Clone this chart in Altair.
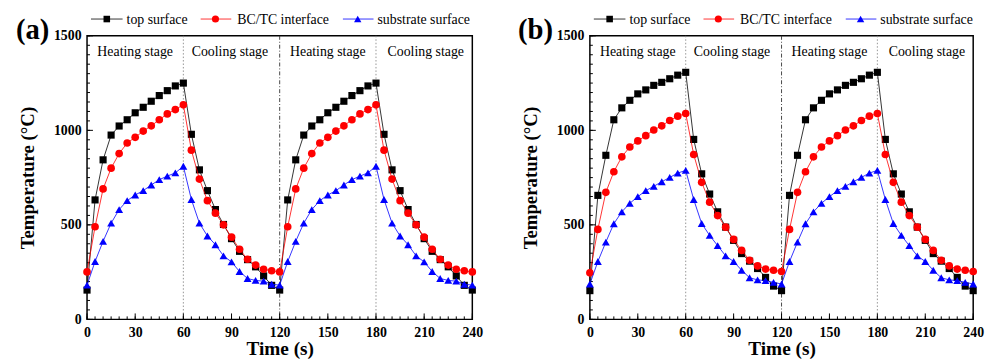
import altair as alt
import pandas as pd

# ---------------- data ----------------
time_s = list(range(0, 245, 5))
series_names = ["top surface", "BC/TC interface", "substrate surface"]

a_top = [155, 632, 844, 975, 1023, 1056, 1093, 1122, 1154, 1184, 1210, 1235, 1250,
         979, 791, 681, 581, 502, 427, 360, 316, 278, 230, 180,
         155, 632, 844, 975, 1023, 1056, 1093, 1122, 1154, 1184, 1210, 1235, 1250,
         979, 791, 681, 581, 502, 427, 360, 316, 278, 230, 180, 155]
a_interface = [251, 490, 690, 800, 877, 933, 963, 996, 1024, 1056, 1087, 1110, 1135,
               895, 742, 628, 562, 500, 435, 371, 318, 287, 265, 257,
               251, 490, 690, 800, 877, 933, 963, 996, 1024, 1056, 1087, 1110, 1135,
               895, 742, 628, 562, 500, 435, 371, 318, 287, 265, 257, 251]
a_substrate = [181, 306, 413, 509, 581, 628, 658, 681, 711, 739, 758, 775, 810,
               634, 509, 441, 395, 336, 304, 253, 216, 206, 202, 186,
               181, 306, 413, 509, 581, 628, 658, 681, 711, 739, 758, 775, 810,
               634, 509, 441, 395, 336, 304, 253, 216, 206, 202, 186, 181]

b_top = [152, 656, 868, 1056, 1119, 1159, 1193, 1214, 1238, 1254, 1273, 1292, 1307,
         952, 770, 663, 569, 488, 418, 348, 308, 269, 222, 176,
         152, 656, 868, 1056, 1119, 1159, 1193, 1214, 1238, 1254, 1273, 1292, 1307,
         952, 770, 663, 569, 488, 418, 348, 308, 269, 222, 176, 152]
b_interface = [246, 476, 672, 781, 860, 912, 944, 972, 1002, 1024, 1052, 1075, 1089,
               872, 725, 620, 549, 488, 423, 365, 313, 283, 266, 260,
               253, 476, 672, 781, 860, 912, 944, 972, 1002, 1024, 1052, 1075, 1089,
               872, 725, 620, 549, 488, 423, 365, 313, 283, 266, 260, 253]
b_substrate = [187, 306, 409, 506, 569, 614, 649, 681, 704, 728, 751, 774, 788,
               634, 507, 444, 390, 336, 306, 260, 220, 209, 205, 196,
               187, 306, 409, 506, 569, 614, 649, 681, 704, 728, 751, 774, 788,
               634, 507, 444, 390, 336, 306, 260, 220, 209, 205, 196, 187]

x_tick_labels = [0, 30, 60, 90, 120, 150, 180, 210, 240]
y_tick_labels = [0, 500, 1000, 1500]
x_minor_ticks = list(range(0, 245, 5))
y_minor_ticks = list(range(0, 1501, 50))
boundaries_dotted = [60, 180]
boundaries_dashdot = [120]
stage_labels = ["Heating stage", "Cooling stage", "Heating stage", "Cooling stage"]
stage_label_t = [30, 89, 150, 211]
stage_label_T = [1392, 1392, 1392, 1392]

# ---------------- style ----------------
FONT = "Times New Roman, Liberation Serif, Times, serif"
COLORS = ["#000000", "#ff0000", "#0000ff"]
SHAPES = ["square", "circle", "triangle-up"]
SIZES = [52, 60, 64]
LEG_LINE_X0 = [4, 115, 259]
LEG_LINE_X1 = [36, 146, 290]
LEG_MARK_X = [20, 130, 274]
LEG_TEXT_X = [40, 152, 294]
LEG_Y = -17
H = 287


def make_panel(letter, values, width, height=H):
    x_enc = alt.X(
        "t:Q",
        scale=alt.Scale(domain=[0, 240], nice=False, zero=False),
        axis=alt.Axis(values=x_tick_labels, ticks=False, tickSize=0, domain=False,
                      grid=False, labelPadding=6, labelFlush=False, labelOverlap=False,
                      format="d", title="Time (s)", titleX=width / 2, titleY=36,
                      titleBaseline="alphabetic", titleAlign="center", titleFontSize=19.5),
    )
    y_enc = alt.Y(
        "T:Q",
        scale=alt.Scale(domain=[0, 1500], nice=False),
        axis=alt.Axis(values=y_tick_labels, ticks=False, tickSize=0, domain=False,
                      grid=False, labelPadding=6, labelOverlap=False, format="d",
                      title="Temperature (°C)", titleX=-54, titleY=height / 2,
                      titleAngle=270, titleBaseline="alphabetic", titleAlign="center",
                      titleFontSize=19),
    )

    layers = []
    # stage boundaries
    layers.append(alt.Chart(pd.DataFrame({"t": boundaries_dotted})).mark_rule(
        color="#888888", strokeWidth=0.9, strokeDash=[1.5, 2]).encode(x=x_enc))
    layers.append(alt.Chart(pd.DataFrame({"t": boundaries_dashdot})).mark_rule(
        color="#333333", strokeWidth=0.9, strokeDash=[4, 2, 1, 2]).encode(x=x_enc))

    # inward ticks
    layers.append(alt.Chart(pd.DataFrame({"t": x_minor_ticks})).mark_rule(
        color="black", strokeWidth=1).encode(x=x_enc, y=alt.value(height), y2=alt.value(height - 3)))
    layers.append(alt.Chart(pd.DataFrame({"t": x_tick_labels})).mark_rule(
        color="black", strokeWidth=1).encode(x=x_enc, y=alt.value(height), y2=alt.value(height - 6)))
    layers.append(alt.Chart(pd.DataFrame({"T": y_minor_ticks})).mark_rule(
        color="black", strokeWidth=1).encode(y=y_enc, x=alt.value(0), x2=alt.value(3)))
    layers.append(alt.Chart(pd.DataFrame({"T": y_tick_labels})).mark_rule(
        color="black", strokeWidth=1).encode(y=y_enc, x=alt.value(0), x2=alt.value(6)))

    # series
    for i, name in enumerate(series_names):
        df = pd.DataFrame({"t": time_s, "T": values[i], "series": name})
        layers.append(alt.Chart(df).mark_line(color=COLORS[i], strokeWidth=0.8).encode(
            x=x_enc, y=y_enc))
        layers.append(alt.Chart(df).mark_point(
            filled=True, shape=SHAPES[i], size=SIZES[i], color=COLORS[i], opacity=1).encode(
            x=x_enc, y=y_enc))

    # stage labels
    layers.append(alt.Chart(pd.DataFrame({"t": stage_label_t, "T": stage_label_T,
                                          "label": stage_labels})).mark_text(
        font=FONT, fontSize=14, color="black", align="center", baseline="alphabetic").encode(
        x=x_enc, y=y_enc, text="label:N"))

    # legend (drawn above the plot)
    for i, name in enumerate(series_names):
        ldf = pd.DataFrame({"name": [name]})
        layers.append(alt.Chart(ldf).mark_rule(color=COLORS[i], strokeWidth=0.8).encode(
            x=alt.value(LEG_LINE_X0[i]), x2=alt.value(LEG_LINE_X1[i]), y=alt.value(LEG_Y)))
        layers.append(alt.Chart(ldf).mark_point(
            filled=True, shape=SHAPES[i], size=SIZES[i] - 8, color=COLORS[i], opacity=1).encode(
            x=alt.value(LEG_MARK_X[i]), y=alt.value(LEG_Y)))
        layers.append(alt.Chart(ldf).mark_text(
            font=FONT, fontSize=14, color="black", align="left", baseline="middle").encode(
            x=alt.value(LEG_TEXT_X[i]), y=alt.value(LEG_Y + 1), text="name:N"))

    # panel letter
    layers.append(alt.Chart(pd.DataFrame({"letter": [letter]})).mark_text(
        font=FONT, fontSize=29, fontWeight="bold", color="black", align="center",
        baseline="alphabetic").encode(x=alt.value(-55), y=alt.value(3), text="letter:N"))

    return alt.layer(*layers).properties(width=width, height=height)


panel_a = make_panel("(a)", [a_top, a_interface, a_substrate], 390)
panel_b = make_panel("(b)", [b_top, b_interface, b_substrate], 388)

chart = alt.hconcat(panel_a, panel_b, spacing=33).properties(
    padding={"left": 7, "top": 2, "right": 4, "bottom": 2}
).configure_view(
    stroke="black", strokeWidth=1.5
).configure_axis(
    labelFont=FONT, labelFontSize=14, labelFontWeight="bold", labelColor="black",
    titleFont=FONT, titleFontWeight="bold", titleColor="black"
)

chart.save("out.html", embed_options={"renderer": "svg", "actions": False})
